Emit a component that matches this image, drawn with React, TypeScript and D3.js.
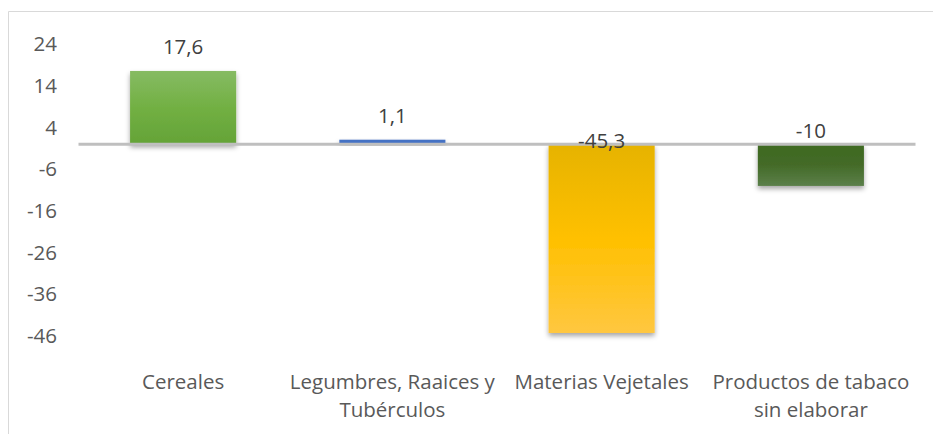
import React from "react";
import * as d3 from "d3";

const categories = [
  ["Cereales"],
  ["Legumbres, Raaices y", "Tubérculos"],
  ["Materias Vejetales"],
  ["Productos de tabaco", "sin elaborar"],
];
const values = [17.6, 1.1, -45.3, -10];
const valueLabels = ["17,6", "1,1", "-45,3", "-10"];
const yTicks = [24, 14, 4, -6, -16, -26, -36, -46];

const W = 933;
const H = 434;

const gradients = [
  ["#86bb63", "#72b043", "#64a337"],
  ["#4472c4", "#4472c4", "#4472c4"],
  ["#e6b300", "#ffc000", "#ffc740"],
  ["#3e6a20", "#446b28", "#5b7f4a"],
];
const labelDy = [-24, -24, -3, -13];

export default function App() {
  const x = d3
    .scaleBand<number>()
    .domain(values.map((_, i) => i))
    .range([78.5, 915.5])
    .paddingInner(0.493)
    .paddingOuter(0.2465);
  const y = d3.scaleLinear().domain([24, -46]).range([44.3, 335.9]);
  const font = "'Open Sans', sans-serif";
  const fs = 20.5;

  return (
    <svg width={W} height={H} style={{ position: "absolute", left: 0, top: 0 }}>
      <defs>
        <filter id="sh" x="-20%" y="-20%" width="140%" height="140%">
          <feDropShadow dx="0" dy="3" stdDeviation="2.5" floodColor="#000" floodOpacity="0.35" />
        </filter>
        {gradients.map((g, i) => (
          <linearGradient key={i} id={`g${i}`} x1="0" y1="0" x2="0" y2="1">
            <stop offset="0%" stopColor={g[0]} />
            <stop offset="50%" stopColor={g[1]} />
            <stop offset="100%" stopColor={g[2]} />
          </linearGradient>
        ))}
      </defs>
      <rect x={0} y={0} width={W} height={H} fill="#fff" />
      <line x1={8.5} y1={11.5} x2={W} y2={11.5} stroke="#d9d9d9" strokeWidth={1} />
      <line x1={8.5} y1={11.5} x2={8.5} y2={H} stroke="#d9d9d9" strokeWidth={1} />

      {yTicks.map((t) => (
        <text
          key={t}
          x={57}
          y={y(t)}
          dy="0.35em"
          textAnchor="end"
          fontFamily={font}
          fontSize={fs}
          fill="#595959"
        >
          {t}
        </text>
      ))}

      {values.map((v, i) => {
        const y0 = y(0);
        const y1 = y(v);
        return (
          <rect
            key={i}
            x={x(i)}
            y={Math.min(y0, y1)}
            width={x.bandwidth()}
            height={Math.abs(y1 - y0)}
            fill={`url(#g${i})`}
            filter="url(#sh)"
          />
        );
      })}

      <line x1={78.5} x2={915.5} y1={y(0)} y2={y(0)} stroke="#bfbfbf" strokeWidth={3} />

      {values.map((v, i) => {
        const top = v >= 0 ? y(v) : y(0);
        return (
          <text
            key={i}
            x={(x(i) as number) + x.bandwidth() / 2}
            y={top + labelDy[i]}
            dy="0.35em"
            textAnchor="middle"
            fontFamily={font}
            fontSize={fs}
            fill="#404040"
          >
            {valueLabels[i]}
          </text>
        );
      })}

      {categories.map((lines, i) => (
        <text
          key={i}
          x={(x(i) as number) + x.bandwidth() / 2}
          y={382}
          textAnchor="middle"
          fontFamily={font}
          fontSize={fs}
          fill="#595959"
        >
          {lines.map((l, j) => (
            <tspan key={j} x={(x(i) as number) + x.bandwidth() / 2} dy={j === 0 ? "0.35em" : 28}>
              {l}
            </tspan>
          ))}
        </text>
      ))}
    </svg>
  );
}
